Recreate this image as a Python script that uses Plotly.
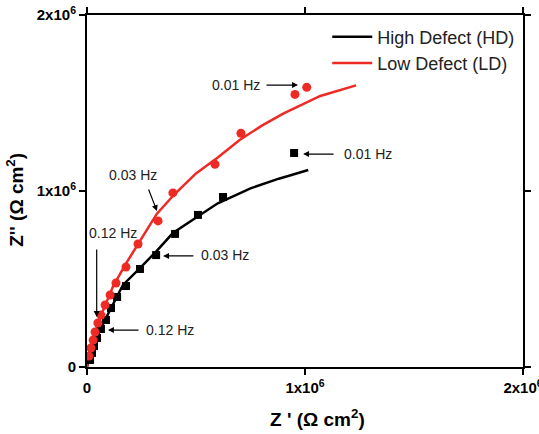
import plotly.graph_objects as go

# HD (black squares) measured data
hd_x = [0.014e6, 0.023e6, 0.032e6, 0.046e6, 0.064e6, 0.087e6, 0.110e6, 0.138e6, 0.179e6, 0.243e6, 0.317e6, 0.404e6, 0.509e6, 0.624e6, 0.950e6]
hd_y = [0.040e6, 0.080e6, 0.119e6, 0.165e6, 0.216e6, 0.267e6, 0.335e6, 0.398e6, 0.460e6, 0.557e6, 0.636e6, 0.756e6, 0.864e6, 0.966e6, 1.216e6]

# LD (red circles) measured data
ld_x = [0.009e6, 0.018e6, 0.028e6, 0.037e6, 0.050e6, 0.064e6, 0.083e6, 0.106e6, 0.133e6, 0.179e6, 0.234e6, 0.326e6, 0.394e6, 0.587e6, 0.706e6, 0.954e6, 1.008e6]
ld_y = [0.062e6, 0.108e6, 0.153e6, 0.199e6, 0.250e6, 0.295e6, 0.352e6, 0.409e6, 0.477e6, 0.568e6, 0.699e6, 0.830e6, 0.989e6, 1.152e6, 1.328e6, 1.549e6, 1.589e6]

# Fit lines
hd_fit_x = [0, 0.01e6, 0.03e6, 0.06e6, 0.10e6, 0.165e6, 0.243e6, 0.32e6, 0.394e6, 0.50e6, 0.60e6, 0.75e6, 0.88e6, 1.015e6]
hd_fit_y = [0, 0.05e6, 0.12e6, 0.21e6, 0.31e6, 0.466e6, 0.562e6, 0.66e6, 0.761e6, 0.85e6, 0.93e6, 1.015e6, 1.07e6, 1.119e6]
ld_fit_x = [0, 0.01e6, 0.03e6, 0.06e6, 0.09e6, 0.12e6, 0.18e6, 0.25e6, 0.32e6, 0.40e6, 0.50e6, 0.60e6, 0.70e6, 0.80e6, 0.90e6, 1.07e6, 1.234e6]
ld_fit_y = [0, 0.07e6, 0.17e6, 0.28e6, 0.37e6, 0.46e6, 0.59e6, 0.73e6, 0.87e6, 0.98e6, 1.10e6, 1.19e6, 1.29e6, 1.37e6, 1.44e6, 1.54e6, 1.60e6]

tick_vals = [0, 1e6, 2e6]
tick_text = ["<b>0</b>", "<b>1x10<sup>6</sup></b>", "<b>2x10<sup>6</sup></b>"]

# frequency labels: (text, text_x, text_y, tail_x, tail_y, head_x, head_y)
freq_labels = [
    ("0.01 Hz", 0.683e6, 1.602e6, 0.8165e6, 1.602e6, 0.968e6, 1.602e6),
    ("0.01 Hz", 1.289e6, 1.210e6, 1.138e6, 1.210e6, 0.991e6, 1.210e6),
    ("0.03 Hz", 0.633e6, 0.636e6, 0.495e6, 0.631e6, 0.349e6, 0.631e6),
    ("0.12 Hz", 0.381e6, 0.210e6, 0.243e6, 0.210e6, 0.096e6, 0.210e6),
    ("0.12 Hz", 0.119e6, 0.761e6, 0.0445e6, 0.676e6, 0.0445e6, 0.284e6),
    ("0.03 Hz", 0.211e6, 1.091e6, 0.280e6, 1.017e6, 0.321e6, 0.886e6),
]

fig = go.Figure()
fig.add_trace(go.Scatter(x=hd_fit_x, y=hd_fit_y, mode="lines", name="High Defect (HD)",
                         line=dict(color="black", width=2.5)))
fig.add_trace(go.Scatter(x=ld_fit_x, y=ld_fit_y, mode="lines", name="Low Defect (LD)",
                         line=dict(color="#ee2a24", width=2.5)))
fig.add_trace(go.Scatter(x=hd_x, y=hd_y, mode="markers", showlegend=False,
                         marker=dict(symbol="square", size=8, color="black")))
fig.add_trace(go.Scatter(x=ld_x, y=ld_y, mode="markers", showlegend=False,
                         marker=dict(symbol="circle", size=9, color="#ee2a24")))

for t, tx, ty, ax, ay, hx, hy in freq_labels:
    fig.add_annotation(x=tx, y=ty, text=t, showarrow=False,
                       font=dict(family="Liberation Sans, Arial", size=14, color="#222"))
    fig.add_annotation(x=hx, y=hy, ax=ax, ay=ay, axref="x", ayref="y", xref="x", yref="y",
                       text="", showarrow=True, arrowhead=2, arrowsize=1, arrowwidth=1.2,
                       arrowcolor="black")

fig.add_annotation(x=0.5, y=-0.105, xref="paper", yref="paper", xanchor="center", yanchor="top",
                   text="<b>Z ' (Ω cm<sup>2</sup>)</b>", showarrow=False, xshift=12,
                   font=dict(family="Liberation Sans, Arial", size=19, color="black"))
fig.add_annotation(x=-0.165, y=0.475, xref="paper", yref="paper", textangle=-90,
                   xanchor="center", yanchor="middle",
                   text="<b>Z'' (Ω cm<sup>2</sup>)</b>", showarrow=False,
                   font=dict(family="Liberation Sans, Arial", size=19, color="black"))

axis_common = dict(range=[0, 2e6], tickvals=tick_vals, ticktext=tick_text, showgrid=False,
                   zeroline=False, showline=True, linecolor="black", linewidth=2,
                   mirror="ticks", ticks="outside", ticklen=6, tickwidth=2, tickcolor="black",
                   automargin=False, ticklabeloverflow="allow",
                   tickfont=dict(family="Liberation Sans, Arial", size=15, color="black"))
fig.update_xaxes(**axis_common)
fig.update_yaxes(**axis_common)

fig.update_layout(
    width=539, height=434,
    margin=dict(l=87, r=16, t=15, b=67, autoexpand=False),
    plot_bgcolor="white", paper_bgcolor="white",
    legend=dict(x=0.551, y=0.99, xanchor="left", yanchor="top", bgcolor="rgba(0,0,0,0)",
                font=dict(family="Liberation Sans, Arial", size=18, color="#222"),
                tracegroupgap=0, itemwidth=40),
)
fig.write_html("out.html", config={"displayModeBar": False},
               post_script="document.body.style.margin='0';document.body.style.overflow='hidden';")
